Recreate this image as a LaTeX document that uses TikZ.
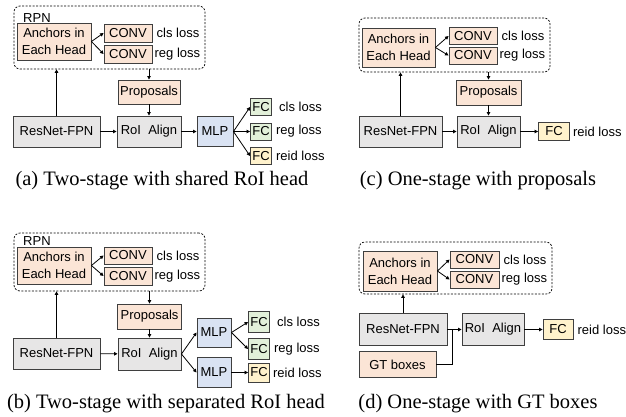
\documentclass[tikz,border=0pt]{standalone}
\usepackage{fontspec}
\setmainfont{Liberation Serif}
\newfontfamily\boxfamily{Liberation Sans}
\usetikzlibrary{arrows.meta, positioning}

\definecolor{salmonfill}{HTML}{FBE5D6}
\definecolor{greyfill}{HTML}{E7E6E6}
\definecolor{bluefill}{HTML}{DAE3F3}
\definecolor{greenfill}{HTML}{E2F0D9}
\definecolor{yellowfill}{HTML}{FFF2CC}
\definecolor{edgegrey}{HTML}{3F3F3F}

\begin{document}
\begin{tikzpicture}[x=1pt, y=-1pt]

    \tikzstyle{block} = [rectangle, draw=edgegrey, line width=0.9pt, inner sep=0pt, text centered, font=\boxfamily\fontsize{13}{17}\selectfont]
    \tikzstyle{pinkblock} = [block, fill=salmonfill]
    \tikzstyle{greyblock} = [block, fill=greyfill]
    \tikzstyle{blueblock} = [block, fill=bluefill]
    \tikzstyle{greenblock} = [block, fill=greenfill]
    \tikzstyle{yellowblock} = [block, fill=yellowfill]
    \tikzstyle{rpn} = [rectangle, rounded corners=6pt, draw=black, line width=0.7pt, dash pattern=on 2pt off 1.5pt]
    \tikzstyle{loss} = [inner sep=0pt, font=\boxfamily\fontsize{13}{17}\selectfont]
    \tikzstyle{caption} = [inner sep=0pt, font=\fontsize{20.5}{24}\selectfont]
    \tikzstyle{arrow} = [line width=0.8pt, -{Triangle[length=3.5pt, width=3.5pt]}]

    \useasboundingbox (0,0) rectangle (626,416);

    % Nodes (a)
    \node (rpnA) [rpn, minimum width=191, minimum height=63] at (109.5,37.5) {};
    \node (rpnlabelA) [loss, anchor=base west] at (23,22) {RPN};
    \node (anchA) [pinkblock, minimum width=74, minimum height=37, align=center] at (54,41.5) {Anchors in\\Each Head};
    \node (convA1) [pinkblock, minimum width=48, minimum height=18] at (128,33) {CONV};
    \node (convA2) [pinkblock, minimum width=48, minimum height=18] at (128,54) {CONV};
    \node (clsA) [loss, right=4pt of convA1] {cls loss};
    \node (regA) [loss, right=2pt of convA2] {reg loss};
    \node (propA) [pinkblock, minimum width=62, minimum height=24] at (149,92) {Proposals};
    \node (resA) [greyblock, minimum width=87, minimum height=31] at (56.5,131.5) {ResNet-FPN};
    \node (roiA) [greyblock, minimum width=64, minimum height=31] at (149,131.5) {RoI\ \ Align};
    \node (mlpA) [blueblock, minimum width=36, minimum height=30] at (215,131.5) {MLP};
    \node (fcA1) [greenblock, minimum width=21, minimum height=17] at (261,107) {FC};
    \node (fcA2) [greenblock, minimum width=21, minimum height=17] at (261,131.5) {FC};
    \node (fcA3) [yellowblock, minimum width=21, minimum height=17] at (261,156) {FC};
    \node (clsfcA) [loss, right=7pt of fcA1] {cls loss};
    \node (regfcA) [loss, right=4pt of fcA2] {reg loss};
    \node (reidA) [loss, right=4pt of fcA3] {reid loss};
    \node (capA) [caption] at (162,181) {(a) Two-stage with shared RoI head};

    % Arrows (a)
    \draw [arrow] (anchA.east) -- (convA1.west);
    \draw [arrow] (anchA.east) -- (convA2.west);
    \draw [arrow] (resA.north) -- (resA.north |- rpnA.south);
    \draw [arrow] (rpnA.south -| propA.north) -- (propA.north);
    \draw [arrow] (propA.south) -- (roiA.north);
    \draw [arrow] (resA) -- (roiA);
    \draw [arrow] (roiA) -- (mlpA);
    \draw [arrow] (mlpA.east) -- (fcA1.west);
    \draw [arrow] (mlpA.east) -- (fcA2.west);
    \draw [arrow] (mlpA.east) -- (fcA3.west);

    % Nodes (b)
    \node (rpnB) [rpn, minimum width=191, minimum height=58] at (109.5,262) {};
    \node (rpnlabelB) [loss, anchor=base west] at (23,245.5) {RPN};
    \node (anchB) [pinkblock, minimum width=74, minimum height=37, align=center] at (54,265.5) {Anchors in\\Each Head};
    \node (convB1) [pinkblock, minimum width=48, minimum height=17] at (128,255.5) {CONV};
    \node (convB2) [pinkblock, minimum width=48, minimum height=18] at (128,276) {CONV};
    \node (clsB) [loss, right=4pt of convB1] {cls loss};
    \node (regB) [loss, right=2pt of convB2] {reg loss};
    \node (propB) [pinkblock, minimum width=64, minimum height=25] at (149.5,316.5) {Proposals};
    \node (resB) [greyblock, minimum width=87, minimum height=31] at (56.5,353.5) {ResNet-FPN};
    \node (roiB) [greyblock, minimum width=63, minimum height=32] at (149.5,354) {RoI\ \ Align};
    \node (mlpB1) [blueblock, minimum width=34, minimum height=29] at (214,332.5) {MLP};
    \node (mlpB2) [blueblock, minimum width=34, minimum height=30] at (214,372.5) {MLP};
    \node (fcB1) [greenblock, minimum width=21, minimum height=21] at (259,322) {FC};
    \node (fcB2) [greenblock, minimum width=21, minimum height=21] at (259,349) {FC};
    \node (fcB3) [yellowblock, minimum width=21, minimum height=19] at (259,372.5) {FC};
    \node (clsfcB) [loss, right=7pt of fcB1] {cls loss};
    \node (regfcB) [loss, right=4pt of fcB2] {reg loss};
    \node (reidB) [loss, right=3pt of fcB3] {reid loss};
    \node (capB) [caption] at (166,404) {(b) Two-stage with separated RoI head};

    % Arrows (b)
    \draw [arrow] (anchB.east) -- (convB1.west);
    \draw [arrow] (anchB.east) -- (convB2.west);
    \draw [arrow] (resB.north) -- (resB.north |- rpnB.south);
    \draw [arrow] (rpnB.south -| roiB.north) -- (propB.north -| roiB.north);
    \draw [arrow] (propB.south -| roiB.north) -- (roiB.north);
    \draw [arrow] (resB) -- (roiB);
    \draw [arrow] (roiB.east) -- (mlpB1.west);
    \draw [arrow] (roiB.east) -- (mlpB2.west);
    \draw [arrow] (mlpB1.east) -- (fcB1.west);
    \draw [arrow] (mlpB1.east) -- (fcB2.west);
    \draw [arrow] (mlpB2) -- (fcB3);

    % Nodes (c)
    \node (rpnC) [rpn, minimum width=191, minimum height=54] at (454.5,45) {};
    \node (anchC) [pinkblock, minimum width=73, minimum height=39, align=center] at (398.5,47.5) {Anchors in\\Each Head};
    \node (convC1) [pinkblock, minimum width=48, minimum height=17] at (473,36) {CONV};
    \node (convC2) [pinkblock, minimum width=48, minimum height=17] at (473,55.5) {CONV};
    \node (clsC) [loss, right=4pt of convC1] {cls loss};
    \node (regC) [loss, right=2pt of convC2] {reg loss};
    \node (propC) [pinkblock, minimum width=65, minimum height=25] at (488.5,92.5) {Proposals};
    \node (resC) [greyblock, minimum width=83, minimum height=31] at (400.5,131.5) {ResNet-FPN};
    \node (roiC) [greyblock, minimum width=63, minimum height=31] at (488.5,131.5) {RoI\ \ Align};
    \node (fcC) [yellowblock, minimum width=31, minimum height=18] at (554,131.5) {FC};
    \node (reidC) [loss, right=3pt of fcC] {reid loss};
    \node (capC) [caption] at (478,181) {(c) One-stage with proposals};

    % Arrows (c)
    \draw [arrow] (anchC.east) -- (convC1.west);
    \draw [arrow] (anchC.east) -- (convC2.west);
    \draw [arrow] (resC.north) -- (resC.north |- rpnC.south);
    \draw [arrow] (rpnC.south -| propC.north) -- (propC.north);
    \draw [arrow] (propC.south) -- (roiC.north);
    \draw [arrow] (resC) -- (roiC);
    \draw [arrow] (roiC) -- (fcC);

    % Nodes (d)
    \node (rpnD) [rpn, minimum width=193, minimum height=52] at (455.5,268) {};
    \node (anchD) [pinkblock, minimum width=74, minimum height=40, align=center] at (400,271) {Anchors in\\Each Head};
    \node (convD1) [pinkblock, minimum width=49, minimum height=17] at (474.5,259.5) {CONV};
    \node (convD2) [pinkblock, minimum width=49, minimum height=17] at (474.5,279.5) {CONV};
    \node (clsD) [loss, right=4pt of convD1] {cls loss};
    \node (regD) [loss, right=2pt of convD2] {reg loss};
    \node (resD) [greyblock, minimum width=88, minimum height=32] at (403,329.5) {ResNet-FPN};
    \node (roiD) [greyblock, minimum width=62, minimum height=32] at (493,329.5) {RoI\ \ Align};
    \node (gtD) [pinkblock, minimum width=77, minimum height=26] at (397.5,364.5) {GT boxes};
    \node (fcD) [yellowblock, minimum width=30, minimum height=20] at (558,329.5) {FC};
    \node (reidD) [loss, right=4pt of fcD] {reid loss};
    \coordinate (joinD) at (452,329.5);
    \node (capD) [caption] at (478,404) {(d) One-stage with GT boxes};

    % Arrows (d)
    \draw [arrow] (anchD.east) -- (convD1.west);
    \draw [arrow] (anchD.east) -- (convD2.west);
    \draw [arrow] (resD.north) -- (resD.north |- rpnD.south);
    \draw [arrow] (resD) -- (roiD);
    \draw [line width=0.8pt] (gtD.east) -| (joinD);
    \draw [arrow] (roiD) -- (fcD);

\end{tikzpicture}
\end{document}
